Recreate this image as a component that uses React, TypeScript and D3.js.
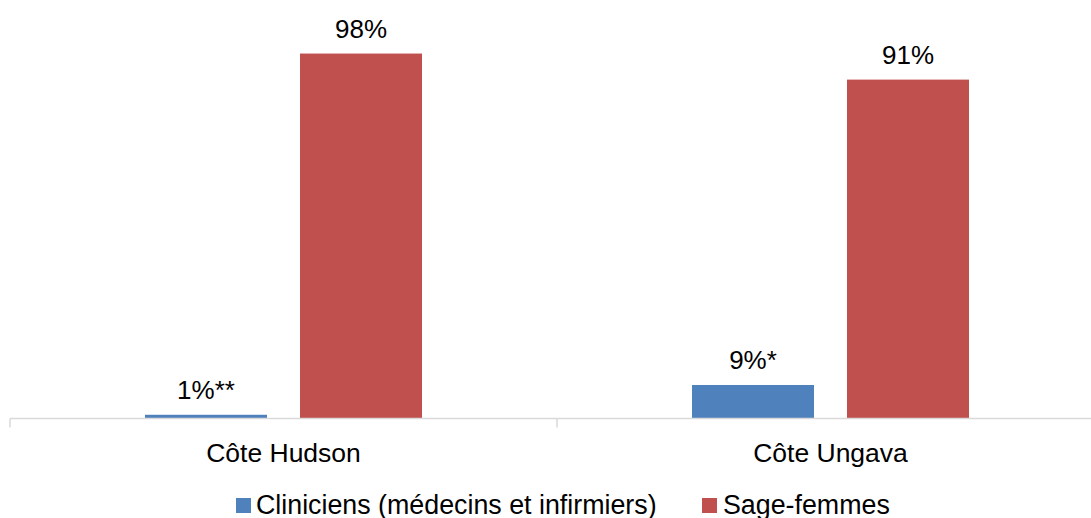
import React from "react";
import * as d3 from "d3";

const categories = ["Côte Hudson", "Côte Ungava"];
const series = ["Cliniciens (médecins et infirmiers)", "Sage-femmes"];
const clinicienValues = [1, 9];
const sageFemmeValues = [98, 91];
const clinicienLabels = ["1%**", "9%*"];
const sageFemmeLabels = ["98%", "91%"];
const colors = ["#4F81BD", "#C0504D"];

const W = 1091;
const H = 518;
const FONT = "'Liberation Sans', Arial, Helvetica, sans-serif";

export default function App() {
  const baseline = 418.5;
  const x0 = d3.scaleBand<string>().domain(categories).range([10, 1104]).paddingInner(0).paddingOuter(0);
  const x1 = d3
    .scaleBand<string>()
    .domain(series)
    .range([0, x0.bandwidth()])
    .paddingInner(0.213)
    .paddingOuter(0.871);
  const y = d3.scaleLinear().domain([0, 100]).range([baseline, baseline - 372.4]);

  const valuesBySeries = [clinicienValues, sageFemmeValues];
  const labelsBySeries = [clinicienLabels, sageFemmeLabels];

  const tickXs = [...categories.map((c) => x0(c) as number), (x0(categories[categories.length - 1]) as number) + x0.bandwidth()];

  const legendItems = [
    { sq: 236, tx: 256 },
    { sq: 702, tx: 723 },
  ];

  return (
    <svg
      width={W}
      height={H}
      style={{ position: "absolute", left: 0, top: 0, background: "#fff" }}
      fontFamily={FONT}
    >
      <rect x={0} y={0} width={W} height={H} fill="#fff" />
      {categories.map((cat, ci) =>
        series.map((s, si) => {
          const v = valuesBySeries[si][ci];
          const bx = (x0(cat) as number) + (x1(s) as number);
          const by = y(v);
          return (
            <g key={cat + s}>
              <rect
                x={bx}
                y={by}
                width={x1.bandwidth()}
                height={baseline - by}
                fill={colors[si]}
              />
              <text
                x={bx + x1.bandwidth() / 2}
                y={by - 16}
                textAnchor="middle"
                fontSize={26}
                fill="#000"
              >
                {labelsBySeries[si][ci]}
              </text>
            </g>
          );
        })
      )}
      <line x1={10} x2={W} y1={baseline} y2={baseline} stroke="#d9d9d9" strokeWidth={1.5} />
      {tickXs.map((tx, i) => (
        <line key={i} x1={tx} x2={tx} y1={baseline} y2={baseline + 9} stroke="#d9d9d9" strokeWidth={1.5} />
      ))}
      {categories.map((cat) => (
        <text
          key={cat}
          x={(x0(cat) as number) + x0.bandwidth() / 2}
          y={461.5}
          textAnchor="middle"
          fontSize={26.5}
          fill="#000"
        >
          {cat}
        </text>
      ))}
      {series.map((s, si) => (
        <g key={s}>
          <rect x={legendItems[si].sq} y={498} width={15} height={15} fill={colors[si]} />
          <text x={legendItems[si].tx} y={514} fontSize={26.8} fill="#000">
            {s}
          </text>
        </g>
      ))}
    </svg>
  );
}
